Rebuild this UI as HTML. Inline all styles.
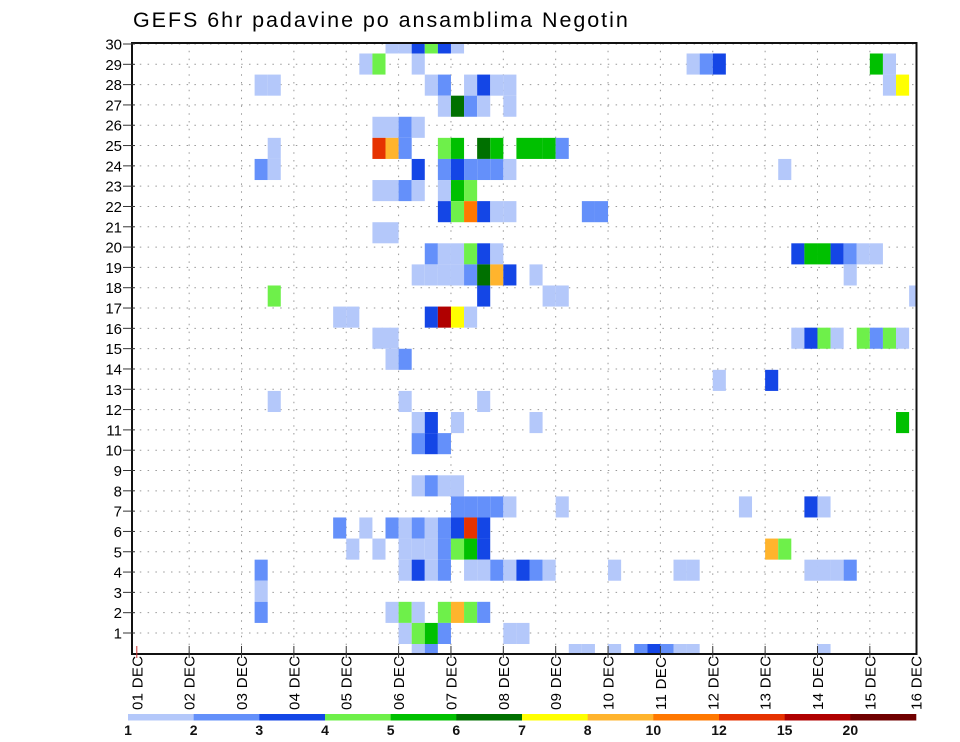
<!DOCTYPE html>
<html><head><meta charset="utf-8"><title>GEFS 6hr padavine po ansamblima Negotin</title>
<style>
html,body{margin:0;padding:0;background:#fff;}
svg{display:block;font-family:"Liberation Sans",sans-serif;}
</style></head>
<body>
<svg id="chart" width="960" height="742" viewBox="0 0 960 742" xmlns="http://www.w3.org/2000/svg">
<defs><clipPath id="plotclip"><rect x="132" y="43" width="784.5" height="611"/></clipPath></defs>
<text x="133" y="27" font-size="21.5" letter-spacing="1.95" fill="#000">GEFS 6hr padavine po ansamblima Negotin</text>
<g id="grid"></g>
<g id="cells" clip-path="url(#plotclip)"></g>
<rect x="132" y="43" width="784.5" height="611" fill="none" stroke="#111" stroke-width="2"/>
<g id="yaxis"></g>
<g id="xaxis"></g>
<g id="legend"></g>
</svg>
<script>
// ---- data ----
const dayLabels = ["01 DEC","02 DEC","03 DEC","04 DEC","05 DEC","06 DEC","07 DEC","08 DEC","09 DEC","10 DEC","11 DEC","12 DEC","13 DEC","14 DEC","15 DEC","16 DEC"];
const memberTicks = [1,2,3,4,5,6,7,8,9,10,11,12,13,14,15,16,17,18,19,20,21,22,23,24,25,26,27,28,29,30];
const levelLabels = ["1","2","3","4","5","6","7","8","10","12","15","20"];
const levelBounds = [1,2,3,4,5,6,7,8,10,12,15,20];
const levelColors = ["#b4c8fa","#6490fa","#1446e6","#6ef04a","#00c000","#007000","#ffff00","#ffb42d","#ff7800","#e63200","#b00000","#700000"];
// cells: ensemble member slot, 6-hour step index from 01 DEC 00Z, precipitation (mm)
const cellMember = [
30,30,30,30,30,30,
29,29,29,29,29,29,29,29,
28,28,28,28,28,28,28,28,28,28,
27,27,27,27,27,
26,26,26,26,
25,25,25,25,25,25,25,25,25,25,25,25,
24,24,24,24,24,24,24,24,24,24,
23,23,23,23,23,23,23,
22,22,22,22,22,22,22,22,
21,21,
20,20,20,20,20,20,20,20,20,20,20,20,20,
19,19,19,19,19,19,19,19,19,19,
18,18,18,18,18,
17,17,17,17,17,17,
16,16,16,16,16,16,16,16,16,16,
15,15,
14,14,
13,13,13,
12,12,12,12,12,
11,11,11,
9,9,9,9,
8,8,8,8,8,8,8,8,8,
7,7,7,7,7,7,7,7,7,7,
6,6,6,6,6,6,6,6,6,6,6,
5,5,5,5,5,5,5,5,5,5,5,5,5,5,5,5,5,5,5,
4,
3,3,3,3,3,3,3,3,
2,2,2,2,2,2,
1,1,1,1,1,1,1,1,1,1,1];
const cellStep = [
19,20,21,22,23,24,
17,18,21,42,43,44,56,57,
9,10,22,23,25,26,27,28,57,58,
23,24,25,26,28,
18,19,20,21,
10,18,19,20,23,24,26,27,29,30,31,32,
9,10,21,23,24,25,26,27,28,49,
18,19,20,21,23,24,25,
23,24,25,26,27,28,34,35,
18,19,
22,23,24,25,26,27,50,51,52,53,54,55,56,
21,22,23,24,25,26,27,28,30,54,
10,26,31,32,59,
15,16,22,23,24,25,
18,19,50,51,52,53,55,56,57,58,
19,20,
44,48,
10,20,26,
21,22,24,30,58,
21,22,23,
21,22,23,24,
24,25,26,27,28,32,46,51,52,
15,17,19,20,21,22,23,24,25,26,
16,18,20,21,22,23,24,25,26,48,49,
9,20,21,22,23,25,26,27,28,29,30,31,36,41,42,51,52,53,54,
9,
9,19,20,21,23,24,25,26,
20,21,22,23,28,29,
21,22,33,34,36,38,39,40,41,42,52];
const cellValue = [
1.5,1.5,3.5,4.5,3.5,1.5,
1.5,4.5,1.5,1.5,2.5,3.5,5.5,1.5,
1.5,1.5,1.5,2.5,1.5,3.5,1.5,1.5,1.5,7.5,
1.5,6.5,2.5,1.5,1.5,
1.5,1.5,2.5,1.5,
1.5,13,9,2.5,4.5,5.5,6.5,5.5,5.5,5.5,5.5,2.5,
2.5,1.5,3.5,2.5,3.5,2.5,2.5,2.5,1.5,1.5,
1.5,1.5,2.5,1.5,1.5,5.5,4.5,
3.5,4.5,11,3.5,1.5,1.5,2.5,2.5,
1.5,1.5,
2.5,1.5,1.5,4.5,3.5,1.5,3.5,5.5,5.5,3.5,2.5,1.5,1.5,
1.5,1.5,1.5,1.5,2.5,6.5,9,3.5,1.5,1.5,
4.5,3.5,1.5,1.5,1.5,
1.5,1.5,3.5,17,7.5,1.5,
1.5,1.5,1.5,3.5,4.5,1.5,4.5,2.5,4.5,1.5,
1.5,2.5,
1.5,3.5,
1.5,1.5,1.5,
1.5,3.5,1.5,1.5,5.5,
2.5,3.5,2.5,
1.5,2.5,1.5,1.5,
2.5,2.5,2.5,2.5,1.5,1.5,1.5,3.5,1.5,
2.5,1.5,2.5,1.5,2.5,1.5,2.5,3.5,13,3.5,
1.5,1.5,1.5,1.5,1.5,2.5,4.5,5.5,3.5,9,4.5,
2.5,1.5,3.5,1.5,2.5,1.5,1.5,2.5,1.5,3.5,2.5,1.5,1.5,1.5,1.5,1.5,1.5,1.5,2.5,
1.5,
2.5,1.5,4.5,1.5,4.5,9,4.5,2.5,
1.5,4.5,5.5,2.5,1.5,1.5,
1.5,2.5,1.5,1.5,1.5,2.5,3.5,2.5,1.5,1.5,1.5];

// ---- scales ----
const NS = "http://www.w3.org/2000/svg";
const plotL = 132, plotR = 916.5, plotT = 43, plotB = 654;
const day0X = 136.8, dayW = 52.36, stepW = dayW / 4;
function xDay(d){ return day0X + d * dayW; }
function xStep(s){ return day0X + s * stepW; }
function yLabel(m){ return 44 + (30 - m) * 20.31; }
const bandH = 21.09;
function yCellTop(m){ return 32.4 + (30 - m) * bandH; }
function colorFor(v){
  let idx = 0;
  for (let i = 0; i < levelBounds.length; i++) { if (v >= levelBounds[i]) idx = i; }
  return levelColors[idx];
}
function mk(tag, attrs, parent){
  const e = document.createElementNS(NS, tag);
  for (const k in attrs) e.setAttribute(k, attrs[k]);
  parent.appendChild(e);
  return e;
}

// ---- grid ----
const grid = document.getElementById('grid');
memberTicks.forEach(m => {
  const l = mk('line', {x1: plotL, x2: plotR, y1: yLabel(m), y2: yLabel(m), stroke: '#999', 'stroke-width': 1, 'stroke-dasharray': '1.5,6.3'}, grid);
  
  
});
dayLabels.forEach((d, i) => {
  if (i === 0 || i === dayLabels.length - 1) return;
  const l = mk('line', {x1: xDay(i), x2: xDay(i), y1: plotT, y2: plotB, stroke: '#999', 'stroke-width': 1, 'stroke-dasharray': '1.5,6.3'}, grid);
  
  
});

// ---- cells ----
const cg = document.getElementById('cells');
for (let i = 0; i < cellMember.length; i++) {
  const r = mk('rect', {x: xStep(cellStep[i]).toFixed(2), y: yCellTop(cellMember[i]).toFixed(2), width: stepW.toFixed(2), height: bandH, fill: colorFor(cellValue[i])}, cg);
  
  
}

// ---- y axis ----
const ya = document.getElementById('yaxis');
memberTicks.forEach(m => {
  const t = mk('line', {x1: 123, x2: 135, y1: yLabel(m), y2: yLabel(m), stroke: '#333', 'stroke-width': 1}, ya);
  
  
  const tx = mk('text', {x: 122, y: yLabel(m) + 5.5, 'text-anchor': 'end', 'font-size': 15, fill: '#000'}, ya);
  tx.textContent = String(m);
  
  
});

// ---- x axis ----
const xa = document.getElementById('xaxis');
dayLabels.forEach((d, i) => {
  const x = (i === dayLabels.length - 1) ? 916 : xDay(i);
  if (i < dayLabels.length - 1) {
    const t = mk('line', {x1: x, x2: x, y1: 646, y2: 658, stroke: i === 0 ? '#c33' : '#333', 'stroke-width': 1}, xa);
    
    
  }
  const tx = mk('text', {x: 0, y: 0, 'font-size': 15, fill: '#000', transform: 'translate(' + (x + 5.5) + ',710) rotate(-90)', 'letter-spacing': '0.3'}, xa);
  tx.textContent = d;
  
  
});

// ---- legend ----
const lg = document.getElementById('legend');
const legL = 128, legR = 916, segW = (legR - legL) / levelColors.length;
levelColors.forEach((c, i) => {
  const r = mk('rect', {x: (legL + i * segW).toFixed(2), y: 714, width: (segW + 0.3).toFixed(2), height: 6.5, fill: c}, lg);
  
  
});
levelLabels.forEach((lab, i) => {
  const tx = mk('text', {x: (legL + i * segW).toFixed(2), y: 735, 'text-anchor': 'middle', 'font-size': 14, 'font-weight': 'bold', fill: '#111'}, lg);
  tx.textContent = lab;
  
  
});
</script>
</body></html>
